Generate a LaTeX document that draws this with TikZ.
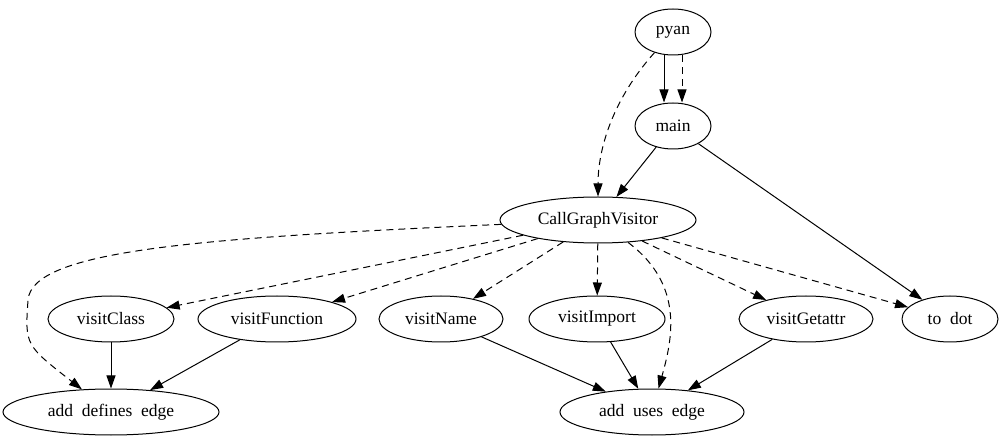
\documentclass[tikz,border=0pt]{standalone}
\usepackage{fontspec}
\setmainfont{Liberation Serif}
\usetikzlibrary{arrows.meta,shapes.geometric}

\begin{document}
\begin{tikzpicture}[x=1pt,y=-1pt,>={Triangle[length=13pt,width=9pt]},
 n/.style={draw,ellipse,minimum height=46pt,inner sep=0pt,line width=1pt,font=\fontsize{17.5}{20}\selectfont},
 a/.style={->,line width=1pt},d/.style={a,dash pattern=on 7pt off 5pt}]
\useasboundingbox (0,0) rectangle (1001,443);
% nodes
\node[n,minimum width=76pt] (pyan) at (673,32) {pyan};
\node[n,minimum width=76pt] (main) at (673,126) {main};
\node[n,minimum width=196pt] (cgv) at (598,220) {CallGraphVisitor};
\node[n,minimum width=126pt] (vclass) at (111,319) {visitClass};
\node[n,minimum width=158pt] (vfunc) at (277,319) {visitFunction};
\node[n,minimum width=124pt] (vname) at (441,319) {visitName};
\node[n,minimum width=136pt] (vimport) at (597,319) {visitImport};
\node[n,minimum width=134pt] (vgetattr) at (806,319) {visitGetattr};
\node[n,minimum width=96pt] (todot) at (950,319) {to\enspace dot};
\node[n,minimum width=216pt] (adefs) at (111,412) {add\enspace defines\enspace edge};
\node[n,minimum width=184pt] (auses) at (652,412) {add\enspace uses\enspace edge};
% edges
\draw[a] ([xshift=-9pt]pyan.south) -- ([xshift=-9pt]main.north);
\draw[d] ([xshift=9pt]pyan.south) -- ([xshift=9pt]main.north);
\draw[d] (pyan) .. controls (612,100) and (598,150) .. (cgv);
\draw[a] (main) -- (cgv);
\draw[a] (main) -- (todot);
\draw[d] (cgv) .. controls (200,238) and (32,250) .. (28,300) .. controls (25,345) .. (adefs);
\draw[d] (cgv) -- (vclass);
\draw[d] (cgv) -- (vfunc);
\draw[d] (cgv) -- (vname);
\draw[d] (cgv) -- (vimport);
\draw[d] (cgv) -- (vgetattr);
\draw[d] (cgv) -- (todot);
\draw[d] (cgv) .. controls (685,285) and (672,340) .. (auses);
\draw[a] (vclass) -- (adefs);
\draw[a] (vfunc) -- (adefs);
\draw[a] (vname) -- (auses);
\draw[a] (vimport) -- (auses);
\draw[a] (vgetattr) -- (auses);
\end{tikzpicture}
\end{document}
